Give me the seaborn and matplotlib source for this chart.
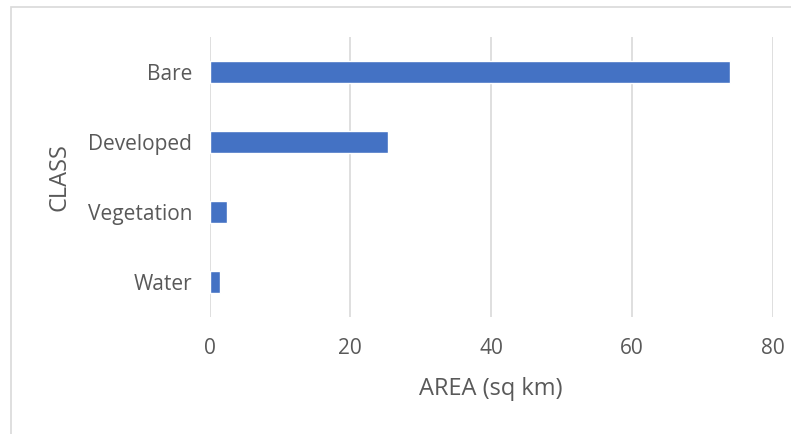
import matplotlib
matplotlib.use("Agg")
import matplotlib.pyplot as plt
import seaborn as sns
import pandas as pd
from matplotlib.patches import Rectangle

categories = ["Bare", "Developed", "Vegetation", "Water"]
area = [73.9, 25.4, 2.5, 1.5]
x_ticks = [0, 20, 40, 60, 80]

sns.set_theme(style="white")
plt.rcParams['font.family'] = ['Open Sans', 'DejaVu Sans']

df = pd.DataFrame({"CLASS": categories, "AREA": area})

fig = plt.figure(figsize=(7.91, 4.34), dpi=100)
W, H = 791, 434
ax = fig.add_axes([209.5 / W, 1 - 317 / H, (772.7 - 209.5) / W, 280 / H])

sns.barplot(data=df, x="AREA", y="CLASS", orient="h", color="#4472C4",
            width=0.313, saturation=1, ax=ax, zorder=3)

ax.set_xlim(0, 80)
ax.set_ylim(3.5, -0.5)
ax.set_xticks(x_ticks)
ax.set_xticklabels([str(t) for t in x_ticks])
ax.grid(axis="x", color="#D9D9D9", linewidth=1.2, zorder=0)
ax.grid(axis="y", visible=False)
for s in ax.spines.values():
    s.set_visible(False)
ax.tick_params(axis="both", length=0, labelsize=15, labelcolor="#595959")
ax.tick_params(axis="x", pad=15)
ax.tick_params(axis="y", pad=12.5)
ax.set_xlabel("AREA (sq km)", fontsize=17, color="#595959")
ax.set_ylabel("CLASS", fontsize=17, color="#595959")
ax.xaxis.set_label_coords(0.5, -0.257)
ax.xaxis.label.set_va("center")
ax.yaxis.set_label_coords(-0.266, 0.5)
ax.yaxis.label.set_va("center")

fig.patches.append(Rectangle((11 / W, -0.1), 1.2, 1 - 7 / H + 0.1,
                             transform=fig.transFigure, fill=False,
                             edgecolor="#D9D9D9", linewidth=1.2))

fig.savefig("out.png", dpi=100)
